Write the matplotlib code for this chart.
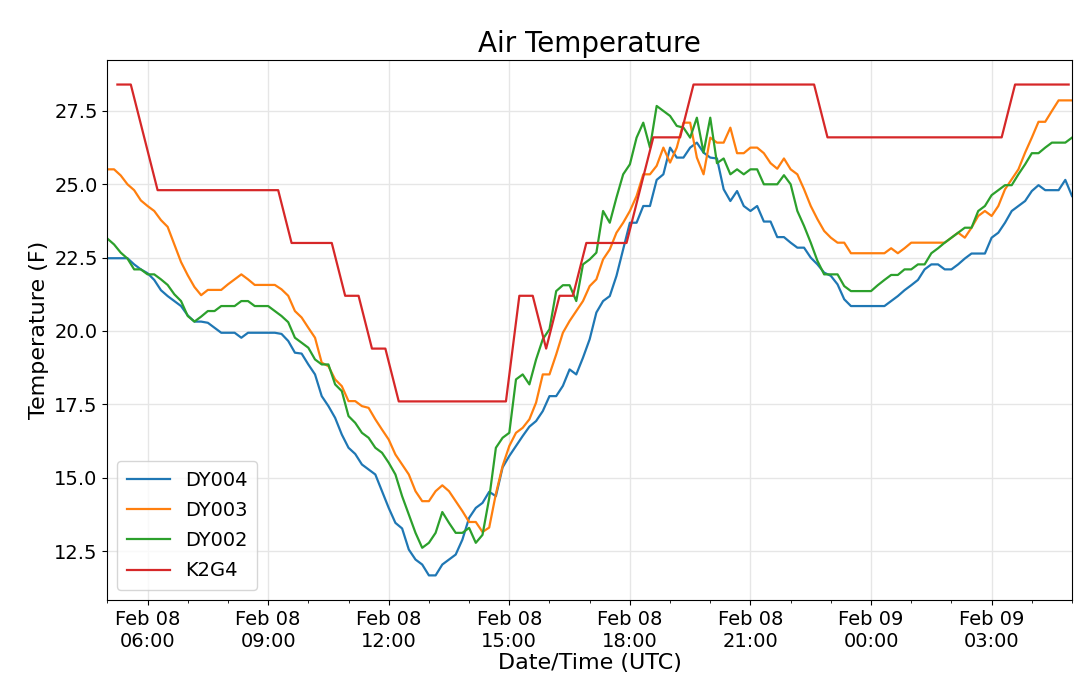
#!/bin/env python

import numpy as np
import pandas as pd
import matplotlib as mpl
mpl.use("Agg")
from matplotlib import pyplot as plt
import matplotlib.dates as mdates

# 10-minute station readings, Feb 08 05:00 -> Feb 09 05:00 (UTC)
dy_times = pd.date_range("2019-02-08 05:00", "2019-02-09 05:00", freq="10min")

dy004 = [22.48, 22.48, 22.48, 22.48, 22.27, 22.10, 21.97, 21.74, 21.39, 21.19,
         21.02, 20.85, 20.53, 20.32, 20.32, 20.28, 20.11, 19.94, 19.94, 19.94,
         19.77, 19.94, 19.94, 19.94, 19.94, 19.94, 19.90, 19.66, 19.26, 19.23,
         18.86, 18.52, 17.78, 17.44, 17.04, 16.47, 16.02, 15.81, 15.45, 15.28,
         15.11, 14.54, 13.97, 13.46, 13.27, 12.55, 12.21, 12.04, 11.67, 11.67,
         12.04, 12.21, 12.38, 12.89, 13.63, 13.97, 14.14, 14.52, 14.37, 15.35,
         15.74, 16.08, 16.42, 16.74, 16.93, 17.27, 17.78, 17.78, 18.13, 18.69,
         18.52, 19.09, 19.72, 20.63, 21.02, 21.19, 21.88, 22.78, 23.69, 23.69,
         24.26, 24.26, 25.15, 25.34, 26.25, 25.91, 25.91, 26.25, 26.42, 26.08,
         25.91, 25.88, 24.83, 24.43, 24.77, 24.26, 24.09, 24.26, 23.73, 23.73,
         23.20, 23.20, 23.01, 22.84, 22.84, 22.50, 22.27, 21.99, 21.88, 21.59,
         21.08, 20.85, 20.85, 20.85, 20.85, 20.85, 20.85, 21.02, 21.19, 21.39,
         21.56, 21.74, 22.10, 22.27, 22.27, 22.10, 22.10, 22.27, 22.47, 22.64,
         22.64, 22.64, 23.18, 23.35, 23.69, 24.09, 24.26, 24.43, 24.77, 24.97,
         24.80, 24.80, 24.80, 25.15, 24.60]

dy003 = [25.51, 25.51, 25.30, 25.00, 24.80, 24.45, 24.26, 24.09, 23.78, 23.55,
         22.95, 22.35, 21.90, 21.50, 21.22, 21.40, 21.40, 21.40, 21.59, 21.76,
         21.93, 21.76, 21.57, 21.57, 21.57, 21.57, 21.42, 21.20, 20.68, 20.46,
         20.11, 19.77, 18.92, 18.80, 18.35, 18.12, 17.61, 17.61, 17.44, 17.38,
         16.99, 16.64, 16.30, 15.79, 15.45, 15.11, 14.54, 14.20, 14.20, 14.54,
         14.74, 14.54, 14.20, 13.86, 13.49, 13.49, 13.15, 13.30, 14.45, 15.40,
         16.08, 16.53, 16.70, 16.99, 17.56, 18.52, 18.52, 19.20, 19.94, 20.34,
         20.68, 21.02, 21.53, 21.76, 22.44, 22.78, 23.35, 23.69, 24.09, 24.60,
         25.34, 25.34, 25.63, 26.25, 25.74, 26.25, 27.10, 27.10, 25.91, 25.34,
         26.59, 26.42, 26.42, 26.93, 26.06, 26.06, 26.25, 26.25, 26.06, 25.72,
         25.53, 25.88, 25.51, 25.34, 24.83, 24.26, 23.81, 23.41, 23.18, 23.01,
         23.01, 22.65, 22.65, 22.65, 22.65, 22.65, 22.65, 22.82, 22.65, 22.82,
         23.01, 23.01, 23.01, 23.01, 23.01, 23.01, 23.18, 23.35, 23.18, 23.52,
         23.92, 24.09, 23.92, 24.26, 24.83, 25.17, 25.51, 26.08, 26.59, 27.13,
         27.13, 27.50, 27.86, 27.86, 27.86]

dy002 = [23.15, 22.95, 22.67, 22.47, 22.10, 22.10, 21.93, 21.93, 21.76, 21.57,
         21.25, 21.02, 20.51, 20.32, 20.49, 20.68, 20.68, 20.85, 20.85, 20.85,
         21.02, 21.02, 20.85, 20.85, 20.85, 20.68, 20.51, 20.30, 19.77, 19.60,
         19.43, 19.03, 18.86, 18.86, 18.18, 17.95, 17.10, 16.87, 16.53, 16.36,
         16.02, 15.85, 15.51, 15.11, 14.37, 13.74, 13.12, 12.61, 12.78, 13.12,
         13.83, 13.46, 13.12, 13.12, 13.29, 12.78, 13.05, 14.30, 16.02, 16.36,
         16.53, 18.35, 18.52, 18.18, 19.03, 19.72, 20.06, 21.36, 21.56, 21.56,
         21.02, 22.27, 22.44, 22.67, 24.09, 23.69, 24.55, 25.34, 25.68, 26.59,
         27.10, 26.25, 27.67, 27.50, 27.33, 26.99, 26.93, 26.59, 27.27, 26.08,
         27.27, 25.72, 25.88, 25.34, 25.51, 25.34, 25.51, 25.51, 25.00, 25.00,
         25.00, 25.31, 25.00, 24.09, 23.58, 23.01, 22.39, 21.93, 21.93, 21.93,
         21.53, 21.36, 21.36, 21.36, 21.36, 21.56, 21.74, 21.91, 21.91, 22.10,
         22.10, 22.27, 22.27, 22.65, 22.82, 23.01, 23.18, 23.35, 23.52, 23.52,
         24.09, 24.26, 24.63, 24.80, 24.97, 24.97, 25.34, 25.68, 26.06, 26.06,
         26.25, 26.42, 26.42, 26.42, 26.59]

# K2G4 AWOS reports every 20 minutes at :15, :35, :55
k2g4_times = pd.date_range("2019-02-08 05:15", periods=72, freq="20min")
k2g4 = [28.4, 28.4, 26.6,
        24.8, 24.8, 24.8, 24.8, 24.8, 24.8, 24.8, 24.8, 24.8, 24.8,
        23.0, 23.0, 23.0, 23.0,
        21.2, 21.2,
        19.4, 19.4,
        17.6, 17.6, 17.6, 17.6, 17.6, 17.6, 17.6, 17.6, 17.6,
        21.2, 21.2,
        19.4,
        21.2, 21.2,
        23.0, 23.0, 23.0, 23.0,
        24.8,
        26.6, 26.6, 26.6,
        28.4, 28.4, 28.4, 28.4, 28.4, 28.4, 28.4, 28.4, 28.4, 28.4,
        26.6, 26.6, 26.6, 26.6, 26.6, 26.6, 26.6, 26.6, 26.6, 26.6, 26.6, 26.6, 26.6, 26.6,
        28.4, 28.4, 28.4, 28.4, 28.4]

series = [("DY004", dy_times, dy004),
          ("DY003", dy_times, dy003),
          ("DY002", dy_times, dy002),
          ("K2G4", k2g4_times, k2g4)]


def main():
    fig = plt.figure(figsize=(10.8, 6.88), dpi=100)
    ax = fig.add_axes([0.0994, 0.128, 0.8932, 0.7848])
    for name, t, vals in series:
        assert len(t) == len(vals), name
        ax.plot(t, vals, lw=1.6, label=name)

    ax.set_xlim(dy_times[0], dy_times[-1])
    ax.xaxis.set_major_locator(mdates.HourLocator(byhour=range(0, 24, 3)))
    ax.xaxis.set_minor_locator(mdates.HourLocator())
    ax.xaxis.set_major_formatter(mdates.DateFormatter("%b %d\n%H:%M"))
    ax.tick_params(axis="both", which="major", labelsize=14)
    for lbl in ax.get_xticklabels():
        lbl.set_horizontalalignment("center")

    ax.grid(True, which="major", color="#e6e6e6", lw=1)
    ax.set_axisbelow(True)
    ax.set_title("Air Temperature", fontsize=20)
    ax.set_xlabel("Date/Time (UTC)", fontsize=16, labelpad=2)
    ax.set_ylabel("Temperature (F)", fontsize=16)
    ax.legend(loc="lower left", fontsize=14, handlelength=2.2,
              labelspacing=0.58, borderpad=0.5)

    fig.savefig("out.png", dpi=100)


if __name__ == "__main__":
    main()
